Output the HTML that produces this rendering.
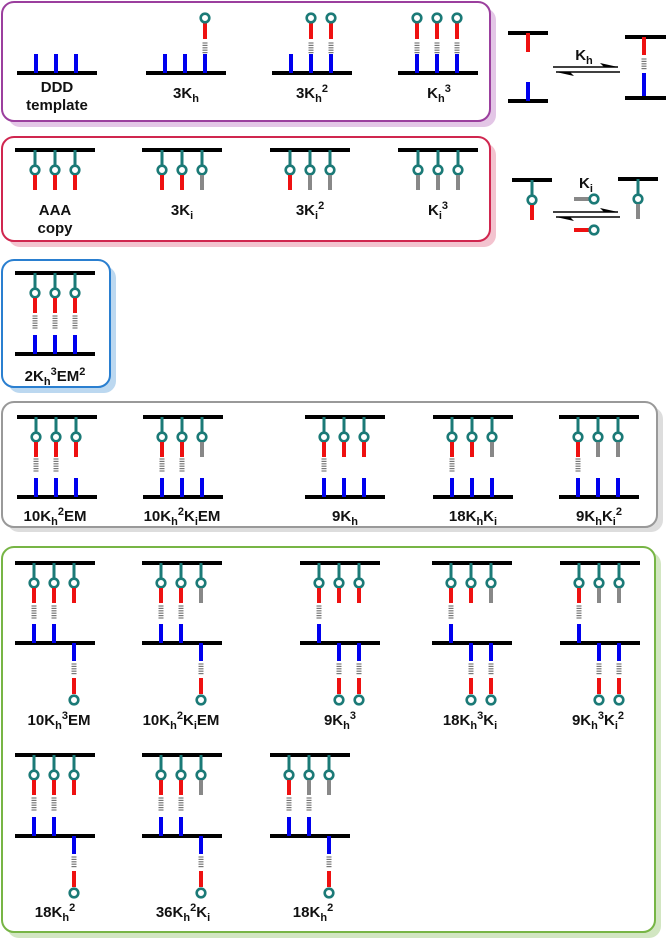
<!DOCTYPE html>
<html><head><meta charset="utf-8"><style>
html,body{margin:0;padding:0;background:#fff;}
svg{display:block;}
text{font-family:"Liberation Sans",sans-serif;font-weight:bold;font-size:15px;fill:#111;}
tspan.s{font-size:11px;}
</style></head><body>
<svg id="s" width="666" height="939" viewBox="0 0 666 939" xmlns="http://www.w3.org/2000/svg">
<rect x="8" y="8" width="488" height="119" rx="12" fill="#e3c6e6"/>
<rect x="2" y="2" width="488" height="119" rx="12" fill="#fff" stroke="#9b3f9e" stroke-width="2"/>
<rect x="8" y="143" width="488" height="104" rx="12" fill="#f3c3cf"/>
<rect x="2" y="137" width="488" height="104" rx="12" fill="#fff" stroke="#d0264f" stroke-width="2"/>
<rect x="8" y="266" width="108" height="127" rx="12" fill="#bcd8f0"/>
<rect x="2" y="260" width="108" height="127" rx="12" fill="#fff" stroke="#2a7fd0" stroke-width="2"/>
<rect x="7" y="407" width="656" height="125" rx="12" fill="#dddddd"/>
<rect x="2" y="402" width="655" height="125" rx="12" fill="#fff" stroke="#999" stroke-width="2"/>
<rect x="7" y="552" width="654" height="386" rx="12" fill="#d2e6c2"/>
<rect x="2" y="547" width="653" height="385" rx="12" fill="#fff" stroke="#77b545" stroke-width="2"/>
<g id="g"></g>
<text x="57" y="92" text-anchor="middle">DDD</text>
<text x="57" y="110" text-anchor="middle">template</text>
<text x="186" y="98" text-anchor="middle">3K<tspan class="s" dy="4">h</tspan></text>
<text x="312" y="98" text-anchor="middle">3K<tspan class="s" dy="4">h</tspan><tspan class="s" dy="-10">2</tspan></text>
<text x="439" y="98" text-anchor="middle">K<tspan class="s" dy="4">h</tspan><tspan class="s" dy="-10">3</tspan></text>
<text x="55" y="215" text-anchor="middle">AAA</text>
<text x="55" y="233" text-anchor="middle">copy</text>
<text x="182" y="215" text-anchor="middle">3K<tspan class="s" dy="4">i</tspan></text>
<text x="310" y="215" text-anchor="middle">3K<tspan class="s" dy="4">i</tspan><tspan class="s" dy="-10">2</tspan></text>
<text x="438" y="215" text-anchor="middle">K<tspan class="s" dy="4">i</tspan><tspan class="s" dy="-10">3</tspan></text>
<text x="55" y="381" text-anchor="middle">2K<tspan class="s" dy="4">h</tspan><tspan class="s" dy="-10">3</tspan><tspan dy="6">EM</tspan><tspan class="s" dy="-6">2</tspan></text>
<text x="55" y="521" text-anchor="middle">10K<tspan class="s" dy="4">h</tspan><tspan class="s" dy="-10">2</tspan><tspan dy="6">EM</tspan></text>
<text x="182" y="521" text-anchor="middle">10K<tspan class="s" dy="4">h</tspan><tspan class="s" dy="-10">2</tspan><tspan dy="6">K</tspan><tspan class="s" dy="4">i</tspan><tspan dy="-4">EM</tspan></text>
<text x="345" y="521" text-anchor="middle">9K<tspan class="s" dy="4">h</tspan></text>
<text x="473" y="521" text-anchor="middle">18K<tspan class="s" dy="4">h</tspan><tspan dy="-4">K</tspan><tspan class="s" dy="4">i</tspan></text>
<text x="599" y="521" text-anchor="middle">9K<tspan class="s" dy="4">h</tspan><tspan dy="-4">K</tspan><tspan class="s" dy="4">i</tspan><tspan class="s" dy="-10">2</tspan></text>
<text x="59" y="725" text-anchor="middle">10K<tspan class="s" dy="4">h</tspan><tspan class="s" dy="-10">3</tspan><tspan dy="6">EM</tspan></text>
<text x="181" y="725" text-anchor="middle">10K<tspan class="s" dy="4">h</tspan><tspan class="s" dy="-10">2</tspan><tspan dy="6">K</tspan><tspan class="s" dy="4">i</tspan><tspan dy="-4">EM</tspan></text>
<text x="340" y="725" text-anchor="middle">9K<tspan class="s" dy="4">h</tspan><tspan class="s" dy="-10">3</tspan></text>
<text x="470" y="725" text-anchor="middle">18K<tspan class="s" dy="4">h</tspan><tspan class="s" dy="-10">3</tspan><tspan dy="6">K</tspan><tspan class="s" dy="4">i</tspan></text>
<text x="598" y="725" text-anchor="middle">9K<tspan class="s" dy="4">h</tspan><tspan class="s" dy="-10">3</tspan><tspan dy="6">K</tspan><tspan class="s" dy="4">i</tspan><tspan class="s" dy="-10">2</tspan></text>
<text x="55" y="917" text-anchor="middle">18K<tspan class="s" dy="4">h</tspan><tspan class="s" dy="-10">2</tspan></text>
<text x="183" y="917" text-anchor="middle">36K<tspan class="s" dy="4">h</tspan><tspan class="s" dy="-10">2</tspan><tspan dy="6">K</tspan><tspan class="s" dy="4">i</tspan></text>
<text x="313" y="917" text-anchor="middle">18K<tspan class="s" dy="4">h</tspan><tspan class="s" dy="-10">2</tspan></text>
<text x="584" y="60" text-anchor="middle">K<tspan class="s" dy="4">h</tspan></text>
<text x="586" y="188" text-anchor="middle">K<tspan class="s" dy="4">i</tspan></text>
</svg>
<script>
var g=document.getElementById('g'),out='';
var B='#0000ee',R='#ee1111',T='#1b7a77',G='#888888';
function L(x1,y1,x2,y2,c,w){out+='<line x1="'+x1+'" y1="'+y1+'" x2="'+x2+'" y2="'+y2+'" stroke="'+c+'" stroke-width="'+w+'"/>';}
function C(x,y){out+='<circle cx="'+x+'" cy="'+y+'" r="4.3" fill="#fff" stroke="'+T+'" stroke-width="2.6"/>';}
function D(x,y1,y2){for(var y=y1;y<=y2;y+=2.4)L(x-2.5,y,x+2.5,y,'#777',1.2);}
function bar(x,y,w){L(x,y,x+(w||80),y,'#000',4);}
function hang(x,y,c){L(x,y,x,y+16,T,3);C(x,y+20);L(x,y+25,x,y+40,c,4);}
function up(x,y){L(x,y,x,y-19,B,4);}
function upHp(x,y){up(x,y);D(x,y-30,y-20);L(x,y-34,x,y-50,R,4);C(x,y-55);}
function downHp(x,y){L(x,y,x,y+18,B,4);D(x,y+21,y+32);L(x,y+35,x,y+51,R,4);C(x,y+57);}
[[17,0],[146,1],[272,2],[398,3]].forEach(function(a){var x0=a[0],n=a[1];bar(x0,73);
 for(var i=0;i<3;i++){var x=x0+19+20*i; if(i>=3-n)upHp(x,73); else up(x,73);}});
[[15,0],[142,1],[270,2],[398,3]].forEach(function(a){var x0=a[0],n=a[1];bar(x0,150);
 for(var i=0;i<3;i++){hang(x0+20+20*i,150,i>=3-n?G:R);}});
bar(15,273);bar(15,354);for(var i=0;i<3;i++){var x=35+20*i;hang(x,273,R);D(x,316,330);up(x,354);}
[[17,0,2],[143,1,2],[305,0,1],[433,1,1],[559,2,1]].forEach(function(a){var x0=a[0];bar(x0,417);bar(x0,497);
 for(var i=0;i<3;i++){var x=x0+19+20*i;hang(x,417,i>=3-a[1]?G:R);if(i<a[2])D(x,459,473);up(x,497);}});
function gu(x0,ty,my,gr,nu){bar(x0,ty);bar(x0,my);
 for(var i=0;i<3;i++){var x=x0+19+20*i;hang(x,ty,i>=3-gr?G:R);
  if(i<nu){D(x,ty+43,ty+57);up(x,my);} else downHp(x,my);}}
gu(15,563,643,0,2);gu(142,563,643,1,2);gu(300,563,643,0,1);gu(432,563,643,1,1);gu(560,563,643,2,1);
gu(15,755,836,0,2);gu(142,755,836,1,2);gu(270,755,836,2,2);
bar(508,33,40);L(528,33,528,52,R,4);bar(508,101,40);L(528,101,528,82,B,4);
bar(625,37,41);L(644,37,644,55,R,4);D(644,59,70);L(644,73,644,96,B,4);bar(625,98,41);
function arrows(y){L(553,y,618,y,'#000',1.5);out+='<path d="M618 '+y+' L600 '+(y-4)+' L604 '+y+' Z" fill="#000"/>';
 L(556,y+5,620,y+5,'#000',1.5);out+='<path d="M556 '+(y+5)+' L574 '+(y+9)+' L570 '+(y+5)+' Z" fill="#000"/>';}
arrows(67);arrows(212);
bar(512,180,40);hang(532,180,R);
bar(618,179,40);hang(638,179,G);
L(574,199,589,199,G,4);C(594,199);
L(574,230,589,230,R,4);C(594,230);
g.innerHTML=out;
</script>
</body></html>
